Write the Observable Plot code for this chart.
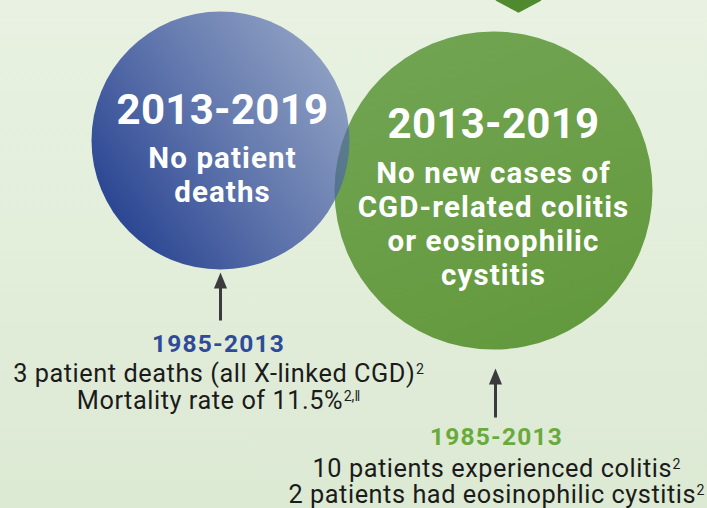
<!DOCTYPE html>
<html><head><meta charset="utf-8">
<script src="https://cdn.jsdelivr.net/npm/d3@7"></script>
<script src="https://cdn.jsdelivr.net/npm/@observablehq/plot@0.6"></script>
<style>
html,body{margin:0;padding:0;}
body{width:707px;height:508px;overflow:hidden;background:linear-gradient(180deg,#e9f2e2 0%,#dce9d3 100%);}
#chart svg{display:block;}
</style></head><body><div id="chart"></div>
<script>
// ---- data ----
const periods = ["2013-2019", "1985-2013"];
const groups = ["deaths", "colitis"];
const blueInner = ["No patient", "deaths"];
const greenInner = ["No new cases of", "CGD-related colitis", "or eosinophilic", "cystitis"];
const blueNotes = ["3 patient deaths (all X-linked CGD)|2", "Mortality rate of 11.5%|2,\u2016"];
const greenNotes = ["10 patients experienced colitis|2", "2 patients had eosinophilic cystitis|2"];

// ---- layout (canvas units) ----
const circles = [
  {group: "colitis", cx: 493, cy: 190, r: 159, fill: "url(#greenGrad)"},
  {group: "deaths", cx: 220, cy: 140, r: 129, fill: "url(#blueGrad)"}
];
const blocks = {
  deaths: {cx: 222, head: 123, first: 167.5, step: 33.5, noteX: 218, period: 351, note: 381, noteStep: 27, arrowX: 220, tip: 272, tail: 320},
  colitis: {cx: 493, head: 137, first: 182, step: 34.3, noteX: 496, period: 444, note: 476, noteStep: 26.5, arrowX: 495, tip: 368, tail: 417}
};
const colors = {deaths: "#2e4b9b", colitis: "#6aaa3c"};
const fonts = {head: 42, inner: 29.5, period: 24.5, note: 25.3};
const tracking = {42: 0.3, 29.5: 1.1, 24.5: 1.2, 25.3: 0.55};

const innerLines = [];
const headLines = [];
const periodLines = [];
const noteLines = [];
const arrows = [];
[[groups[0], blueInner, blueNotes], [groups[1], greenInner, greenNotes]].forEach(([g, inner, notes]) => {
  const b = blocks[g];
  headLines.push({x: b.cx, y: b.head, text: periods[0]});
  inner.forEach((t, i) => innerLines.push({x: b.cx, y: b.first + i * b.step, text: t}));
  periodLines.push({x: b.noteX, y: b.period, text: periods[1], color: colors[g]});
  notes.forEach((t, i) => noteLines.push({x: b.noteX, y: b.note + i * b.noteStep, text: t}));
  arrows.push({x: b.arrowX, tip: b.tip, tail: b.tail, head: b.tip + 8});
});

const topMarker = [{x: 518, y: 0, r: 23}];

const wideDiamond = {draw(ctx, size) { const r = Math.sqrt(size / Math.PI); ctx.moveTo(-r, 0); ctx.lineTo(0, -0.53 * r); ctx.lineTo(r, 0); ctx.lineTo(0, 0.53 * r); ctx.closePath(); }};
const arrowHead = {draw(ctx, size) { const r = Math.sqrt(size / Math.PI); ctx.moveTo(0, -r); ctx.lineTo(0.82 * r, r); ctx.lineTo(-0.82 * r, r); ctx.closePath(); }};

const plot = Plot.plot({
  width: 707, height: 508, margin: 0,
  x: {domain: [0, 707], range: [0, 707], axis: null},
  y: {domain: [0, 508], range: [0, 508], axis: null},
  r: {type: "identity"},
  style: {background: "transparent", fontFamily: "Roboto, 'Open Sans', sans-serif", overflow: "hidden"},
  marks: [
    Plot.dot(topMarker, {x: "x", y: "y", r: "r", symbol: wideDiamond, fill: "#4f8a2f", stroke: null}),
    Plot.dot([circles[0]], {x: "cx", y: "cy", r: "r", fill: circles[0].fill, stroke: null}),
    Plot.dot([circles[1]], {x: "cx", y: "cy", r: "r", fill: circles[1].fill, stroke: null}),
    Plot.text(headLines, {x: "x", y: "y", text: "text", fontSize: fonts.head, fontWeight: 700, fill: "white", textAnchor: "middle", lineAnchor: "bottom"}),
    Plot.text(innerLines, {x: "x", y: "y", text: "text", fontSize: fonts.inner, fontWeight: 700, fill: "white", textAnchor: "middle", lineAnchor: "bottom"}),
    Plot.link(arrows, {x1: "x", x2: "x", y1: "tail", y2: "head", stroke: "#3b3b3d", strokeWidth: 3}),
    Plot.dot(arrows, {x: "x", y: "head", r: 8, symbol: arrowHead, fill: "#3b3b3d", stroke: null}),
    Plot.text(periodLines, {x: "x", y: "y", text: "text", fontSize: fonts.period, fontWeight: 700, fill: "color", textAnchor: "middle", lineAnchor: "bottom"}),
    Plot.text(noteLines, {x: "x", y: "y", text: "text", fontSize: fonts.note, fill: "#1b1b1b", textAnchor: "middle", lineAnchor: "bottom"})
  ]
});

const svg = d3.select(plot);
const defs = svg.insert("defs", ":first-child");
const bg = defs.append("linearGradient").attr("id", "blueGrad").attr("x1", 0.08).attr("y1", 0.8).attr("x2", 0.95).attr("y2", 0.2);
bg.append("stop").attr("offset", "0%").attr("stop-color", "#2a4592").attr("stop-opacity", 1);
bg.append("stop").attr("offset", "100%").attr("stop-color", "#586eb0").attr("stop-opacity", 0.62);
const gg = defs.append("linearGradient").attr("id", "greenGrad").attr("x1", 0.3).attr("y1", 0).attr("x2", 0.7).attr("y2", 1);
gg.append("stop").attr("offset", "0%").attr("stop-color", "#71a452");
gg.append("stop").attr("offset", "100%").attr("stop-color", "#63993d");

svg.selectAll("text").each(function() {
  const g = this.closest("[font-size]");
  const fs = g ? parseFloat(g.getAttribute("font-size")) : null;
  if (fs != null && tracking[fs] != null) this.setAttribute("letter-spacing", tracking[fs] + "px");
  const t = this.textContent;
  if (!t.includes("|")) return;
  const i = t.indexOf("|");
  const base = t.slice(0, i), sup = t.slice(i + 1);
  const el = d3.select(this);
  el.text(null);
  el.append("tspan").text(base);
  el.append("tspan").attr("font-size", "0.56em").attr("dy", "-0.55em").attr("dx", "0.5").attr("letter-spacing", "0").text(sup);
});

document.getElementById("chart").appendChild(plot);
</script></body></html>
